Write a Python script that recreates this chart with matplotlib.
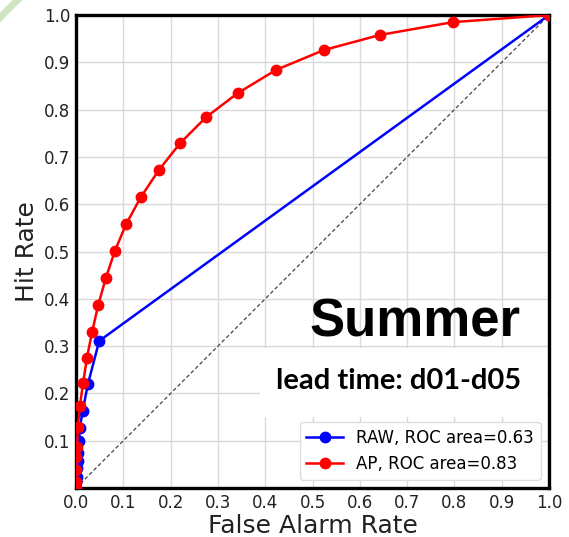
import numpy as np
import matplotlib
matplotlib.use("Agg")
import matplotlib.pyplot as plt
from matplotlib.patches import Rectangle
from matplotlib.lines import Line2D

plt.rcParams["font.family"] = ["DejaVu Sans"]

# ROC data
raw_far = [0.0, 0.001, 0.002, 0.003, 0.004, 0.005, 0.006, 0.008, 0.014, 0.025, 0.049, 1.0]
raw_hit = [0.0, 0.012, 0.024, 0.042, 0.057, 0.074, 0.099, 0.127, 0.163, 0.219, 0.311, 1.0]
ap_far = [0.0, 0.0, 0.001, 0.001, 0.002, 0.004, 0.008, 0.015, 0.023, 0.034, 0.047, 0.063,
          0.082, 0.106, 0.137, 0.175, 0.220, 0.275, 0.342, 0.423, 0.524, 0.643, 0.797, 1.0]
ap_hit = [0.0, 0.012, 0.038, 0.066, 0.087, 0.130, 0.173, 0.222, 0.275, 0.330, 0.387, 0.444,
          0.501, 0.558, 0.615, 0.672, 0.729, 0.784, 0.835, 0.884, 0.926, 0.958, 0.985, 1.0]
labels = ["RAW, ROC area=0.63", "AP, ROC area=0.83"]
xticks = [0.0, 0.1, 0.2, 0.3, 0.4, 0.5, 0.6, 0.7, 0.8, 0.9, 1.0]
yticks = [0.1, 0.2, 0.3, 0.4, 0.5, 0.6, 0.7, 0.8, 0.9, 1.0]

fig = plt.figure(figsize=(5.69, 5.37), dpi=100)
ax = fig.add_axes([0.1336, 0.0912, 0.8313, 0.8808])

# decorative faint green arc in the top-left corner (figure pixels)
t = np.linspace(np.deg2rad(180), np.deg2rad(270), 200)
cx, cy, r = 300, 537 - 300, 412
fig.add_artist(Line2D(cx + r * np.cos(t), cy - r * np.sin(t), transform=None,
                      color="#cfe5c2", lw=5, zorder=0))

ax.grid(True, color="#d9d9d9", lw=1.0, zorder=0)
ax.set_axisbelow(True)

ax.add_patch(Rectangle((0.39, 0.15), 0.605, 0.145, facecolor="white",
                       edgecolor="none", zorder=1))

ax.plot([0, 1], [0, 1], ls=(0, (3, 2)), color="#444444", lw=0.9, zorder=2)
ax.plot(raw_far, raw_hit, "-o", color="blue", lw=1.8, ms=7.5, label=labels[0], zorder=3)
ax.plot(ap_far, ap_hit, "-o", color="red", lw=1.8, ms=7.5, label=labels[1], zorder=3)

ax.set_xlim(0, 1)
ax.set_ylim(0, 1)
ax.set_xticks(xticks)
ax.set_yticks(yticks)
ax.set_xticklabels([f"{v:.1f}" for v in xticks])
ax.set_yticklabels([f"{v:.1f}" for v in yticks])
ax.tick_params(length=0, labelsize=12, colors="#222222", pad=4)
for s in ax.spines.values():
    s.set_linewidth(2.4)
    s.set_color("black")

ax.set_xlabel("False Alarm Rate", fontsize=18, color="#222222", labelpad=2)
ax.set_ylabel("Hit Rate", fontsize=18, color="#222222", labelpad=4)

ax.text(0.717, 0.351, "Summer", fontsize=38, fontweight="bold",
        family="Liberation Sans", ha="center", va="center", zorder=4)
ax.text(0.681, 0.226, "lead time: d01-d05", fontsize=21, fontweight="bold",
        family="Lato", ha="center", va="center", zorder=4)

leg = ax.legend(loc="lower right", fontsize=12, framealpha=1, edgecolor="#dddddd",
                handlelength=2.2, borderaxespad=0.5)
leg.set_zorder(5)

fig.savefig("out.png", dpi=100)
